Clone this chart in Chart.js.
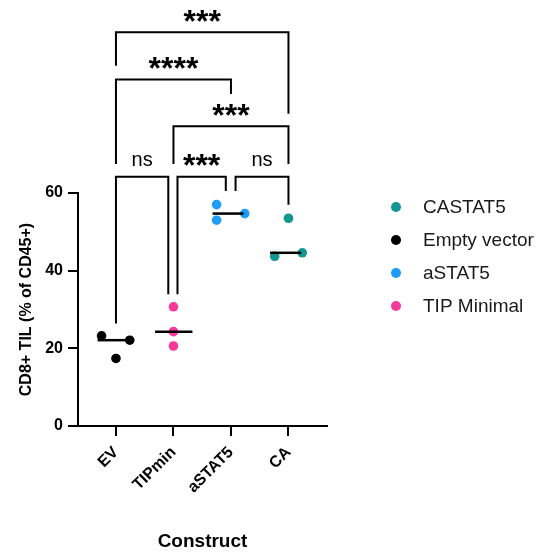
<!DOCTYPE html>
<html>
<head>
<meta charset="utf-8">
<script src="https://cdn.jsdelivr.net/npm/chart.js@4"></script>
<style>
  html, body { margin: 0; padding: 0; background: #fff; }
  canvas { display: block; }
</style>
</head>
<body>
<canvas id="chart" width="542" height="555"></canvas>
<script>
// groups on the x axis
let categories = ["EV", "TIPmin", "aSTAT5", "CA"];
let yTicks = [0, 20, 40, 60];

// replicate values, % CD8+ of CD45+
let evValues = [23.2, 17.4, 22.1];
let tipminValues = [30.7, 24.3, 20.6];
let astat5Values = [57.0, 53.0, 54.7];
let caValues = [53.5, 43.7, 44.6];

// legend order
let seriesNames = ["CASTAT5", "Empty vector", "aSTAT5", "TIP Minimal"];

// significance labels: [from group, to group, label]
let comparisons = [
    ["EV", "CA", "***"],
    ["EV", "aSTAT5", "****"],
    ["TIPmin", "CA", "***"],
    ["EV", "TIPmin", "ns"],
    ["TIPmin", "aSTAT5", "***"],
    ["aSTAT5", "CA", "ns"]
];

// layout stuff (not data)
let jitter = {
    EV: [-0.25, 0, 0.24],
    TIPmin: [0, 0, 0],
    aSTAT5: [-0.25, -0.25, 0.24],
    CA: [0, -0.24, 0.24]
};
// bracket geometry in axis units: bar height, x nudges, leg ends
let bracketGeom = [
    {y: 101.4, dx1: 0, dx2: 0, left: 92.8, right: 80.4},
    {y: 89.2, dx1: 0, dx2: 0, left: 67.5, right: 85.5},
    {y: 77.2, dx1: 0, dx2: 0, left: 67.5, right: 67.5},
    {y: 64.2, dx1: 0, dx2: -0.09, left: 26.4, right: 33.9},
    {y: 64.2, dx1: 0.07, dx2: -0.09, left: 33.9, right: 60.5},
    {y: 64.2, dx1: 0.08, dx2: 0, left: 60.5, right: 57.0}
];

let colors = {
    CASTAT5: "#13968f",
    "Empty vector": "#000000",
    aSTAT5: "#1e9cf7",
    "TIP Minimal": "#f8399a"
};
let font = "'Liberation Sans', Arial, sans-serif";

let median = (arr) => {
    let s = arr.slice().sort((a, b) => a - b);
    return s[Math.floor(s.length / 2)];
};

let groupPoints = (cat, values) => {
    let xi = categories.indexOf(cat) + 1;
    return values.map((v, i) => ({x: xi + jitter[cat][i], y: v}));
};

let medianLine = (cat, values) => {
    let xi = categories.indexOf(cat) + 1;
    let m = median(values);
    return [{x: xi - 0.32, y: m}, {x: xi + (cat == "TIPmin" ? 0.33 : 0.22), y: m}];
};

let groups = [
    {name: "CASTAT5", cat: "CA", values: caValues},
    {name: "Empty vector", cat: "EV", values: evValues},
    {name: "aSTAT5", cat: "aSTAT5", values: astat5Values},
    {name: "TIP Minimal", cat: "TIPmin", values: tipminValues}
];

let datasets = [];
groups.forEach(g => {
    datasets.push({
        type: "scatter",
        label: g.name,
        data: groupPoints(g.cat, g.values),
        backgroundColor: colors[g.name],
        borderWidth: 0,
        pointRadius: 4.8,
        order: 2
    });
});
groups.forEach(g => {
    datasets.push({
        type: "line",
        label: "median " + g.name,
        data: medianLine(g.cat, g.values),
        borderColor: "#000",
        borderWidth: 2.5,
        pointRadius: 0,
        fill: false,
        order: 1
    });
});

let bracketPlugin = {
    id: "brackets",
    afterDraw(chart) {
        let ctx = chart.ctx;
        let xs = chart.scales.x, ys = chart.scales.y;
        ctx.save();
        ctx.strokeStyle = "#000";
        ctx.lineWidth = 2;
        ctx.fillStyle = "#000";
        ctx.textAlign = "center";
        comparisons.forEach((c, i) => {
            let g = bracketGeom[i];
            let x1 = xs.getPixelForValue(categories.indexOf(c[0]) + 1 + g.dx1);
            let x2 = xs.getPixelForValue(categories.indexOf(c[1]) + 1 + g.dx2);
            let y = ys.getPixelForValue(g.y);
            ctx.beginPath();
            ctx.moveTo(x1, ys.getPixelForValue(g.left));
            ctx.lineTo(x1, y);
            ctx.lineTo(x2, y);
            ctx.lineTo(x2, ys.getPixelForValue(g.right));
            ctx.stroke();
            ctx.font = c[2] == "ns" ? "20px " + font : "bold 32px " + font;
            let m = ctx.measureText(c[2]);
            let cy = y - 16.5;
            ctx.textBaseline = "alphabetic";
            ctx.fillText(c[2], (x1 + x2) / 2, cy + (m.actualBoundingBoxAscent - m.actualBoundingBoxDescent) / 2);
        });
        ctx.restore();
    }
};

let legendPlugin = {
    id: "sideLegend",
    afterDraw(chart) {
        let ctx = chart.ctx;
        ctx.save();
        ctx.font = "19px " + font;
        ctx.textBaseline = "middle";
        ctx.textAlign = "left";
        seriesNames.forEach((name, i) => {
            let y = 207 + i * 33;
            ctx.fillStyle = colors[name];
            ctx.beginPath();
            ctx.arc(396, y, 5, 0, Math.PI * 2);
            ctx.fill();
            ctx.fillStyle = "#1a1a1a";
            ctx.fillText(name, 423, y + 1);
        });
        ctx.restore();
    }
};

let chart = new Chart(document.getElementById("chart"), {
    data: {datasets: datasets},
    options: {
        responsive: false,
        animation: false,
        devicePixelRatio: 1,
        layout: {padding: {top: 193, right: 215, bottom: 0, left: 0}},
        plugins: {legend: {display: false}, tooltip: {enabled: false}},
        scales: {
            x: {
                type: "linear",
                min: 0.34,
                max: 4.67,
                afterBuildTicks: (s) => { s.ticks = categories.map((c, i) => ({value: i + 1})); },
                afterFit: (s) => { s.height = 129; },
                ticks: {
                    callback: (v) => categories[v - 1],
                    minRotation: 45,
                    maxRotation: 45,
                    autoSkip: false,
                    color: "#000",
                    font: {family: font, size: 16, weight: "bold"},
                    padding: 7
                },
                grid: {drawOnChartArea: false, tickLength: 10, color: "#000", lineWidth: 2},
                border: {display: true, color: "#000", width: 2},
                title: {
                    display: true,
                    text: "Construct",
                    color: "#000",
                    font: {family: font, size: 19, weight: "bold"},
                    padding: {top: 0, bottom: 2}
                }
            },
            y: {
                min: 0,
                max: 60,
                afterBuildTicks: (s) => { s.ticks = yTicks.map(v => ({value: v})); },
                afterFit: (s) => { s.width = 78; },
                ticks: {
                    color: "#000",
                    font: {family: font, size: 16, weight: "bold"},
                    padding: 5
                },
                grid: {drawOnChartArea: false, tickLength: 10, color: "#000", lineWidth: 2},
                border: {display: true, color: "#000", width: 2},
                title: {
                    display: true,
                    text: "CD8+ TIL (% of CD45+)",
                    color: "#000",
                    font: {family: font, size: 16, weight: "bold"},
                    padding: {top: 17, bottom: 0}
                }
            }
        }
    },
    plugins: [bracketPlugin, legendPlugin]
});
</script>
</body>
</html>
